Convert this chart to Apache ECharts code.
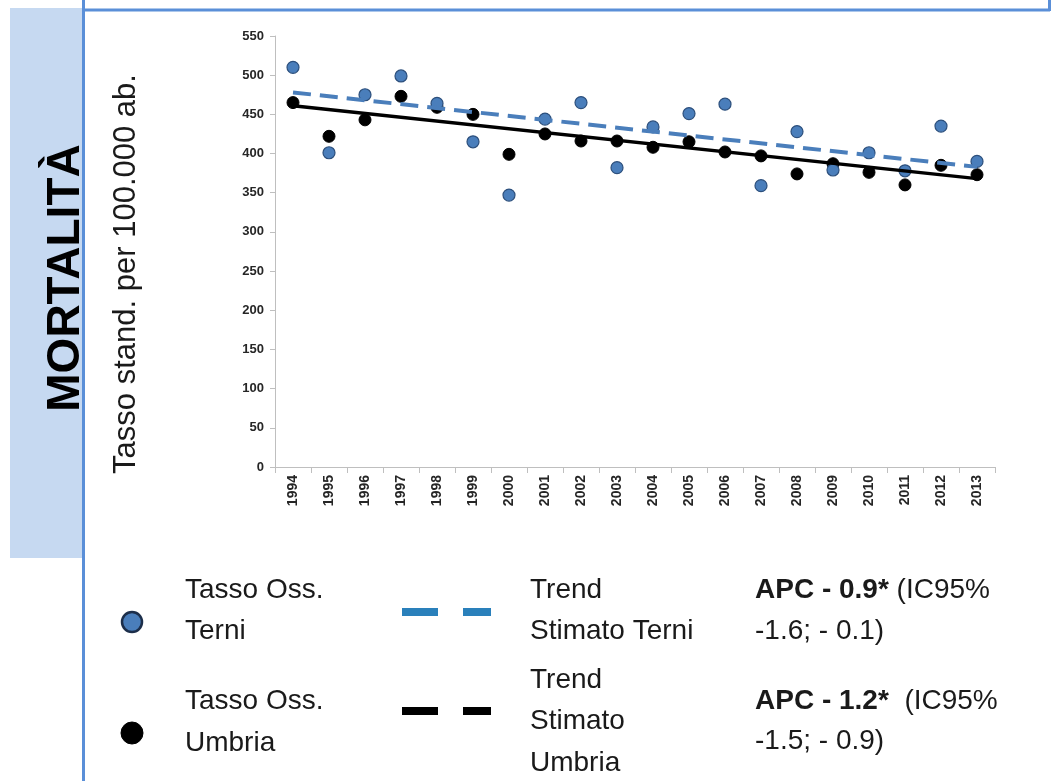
<!DOCTYPE html>
<html>
<head>
<meta charset="utf-8">
<script src="https://cdn.jsdelivr.net/npm/echarts@6/dist/echarts.min.js"></script>
<style>
html,body{margin:0;padding:0;background:#fff;}
#chart{width:1051px;height:781px;}
</style>
</head>
<body>
<div id="chart"></div>
<script>
// ---- data ----
var years = ['1994','1995','1996','1997','1998','1999','2000','2001','2002','2003','2004','2005','2006','2007','2008','2009','2010','2011','2012','2013'];
var terniObs = [510, 401, 475, 499, 464, 415, 347, 444, 465, 382, 434, 451, 463, 359, 428, 379, 401, 378, 435, 390];
var umbriaObs = [465, 422, 443, 473, 459, 450, 399, 425, 416, 416, 408, 415, 402, 397, 374, 387, 376, 360, 385, 373];
// estimated trend end values (1994, 2013)
var terniTrendEnds = [478, 383];
var umbriaTrendEnds = [461, 368];
var yTicks = {min: 0, max: 550, interval: 50};

function trendSeriesData(ends) {
  var d = years.map(function () { return null; });
  d[0] = ends[0];
  d[years.length - 1] = ends[1];
  return d;
}

var FONT = 'Liberation Sans';
var chart = echarts.init(document.getElementById('chart'), null, {renderer: 'canvas'});

function legendText(x, y, t) {
  return {type: 'text', x: x, y: y, z: 20,
    style: {text: t, fontFamily: FONT, fontSize: 28, fill: '#1a1a1a', verticalAlign: 'middle',
      rich: {b: {fontFamily: FONT, fontSize: 28, fontWeight: 'bold', fill: '#1a1a1a'}}}};
}

var option = {
  backgroundColor: '#ffffff',
  animation: false,
  grid: {left: 275, right: 56, top: 36, bottom: 314, containLabel: false},
  xAxis: {
    type: 'category',
    data: years,
    boundaryGap: true,
    axisLine: {lineStyle: {color: '#bfbfbf', width: 1}},
    axisTick: {show: true, length: 6, lineStyle: {color: '#bfbfbf'}},
    axisLabel: {rotate: 90, margin: 8, fontFamily: FONT, fontWeight: 'bold', fontSize: 14, color: '#262626'},
    splitLine: {show: false}
  },
  yAxis: {
    type: 'value',
    min: yTicks.min, max: yTicks.max, interval: yTicks.interval,
    axisLine: {show: true, lineStyle: {color: '#bfbfbf', width: 1}},
    axisTick: {show: true, length: 5, lineStyle: {color: '#bfbfbf'}},
    axisLabel: {margin: 11, fontFamily: FONT, fontWeight: 'bold', fontSize: 13, color: '#262626'},
    splitLine: {show: false}
  },
  series: [
    {
      name: 'Tasso Oss. Umbria', type: 'scatter', data: umbriaObs,
      symbol: 'circle', symbolSize: 12,
      itemStyle: {color: '#000000', borderColor: '#000000', borderWidth: 1, opacity: 1},
      z: 2
    },
    {
      name: 'Tasso Oss. Terni', type: 'scatter', data: terniObs,
      symbol: 'circle', symbolSize: 12,
      itemStyle: {color: '#4a7ebb', borderColor: '#2c4f7c', borderWidth: 1.2, opacity: 1},
      z: 3
    },
    {
      name: 'Trend Stimato Umbria', type: 'line', data: trendSeriesData(umbriaTrendEnds),
      connectNulls: true, showSymbol: false, symbol: 'none',
      lineStyle: {color: '#000000', width: 3.5, type: 'solid'},
      z: 4
    },
    {
      name: 'Trend Stimato Terni', type: 'line', data: trendSeriesData(terniTrendEnds),
      connectNulls: true, showSymbol: false, symbol: 'none',
      lineStyle: {color: '#4a7ebb', width: 4, type: [18, 9]},
      z: 5
    }
  ],
  graphic: [
    // left label panel
    {type: 'rect', left: 10, top: 8, shape: {width: 72, height: 550}, style: {fill: '#c6d9f1'}, z: 0},
    // frame lines
    {type: 'line', shape: {x1: 83.5, y1: 0, x2: 83.5, y2: 781}, style: {stroke: '#5a8fd8', lineWidth: 3}, z: 10},
    {type: 'line', shape: {x1: 84, y1: 10, x2: 1050, y2: 10}, style: {stroke: '#5a8fd8', lineWidth: 3}, z: 10},
    {type: 'line', shape: {x1: 1049.5, y1: 0, x2: 1049.5, y2: 11}, style: {stroke: '#5a8fd8', lineWidth: 3}, z: 10},
    // panel title
    {type: 'text', x: 66, y: 278, rotation: Math.PI / 2,
     style: {text: 'MORTALITÀ', fontFamily: FONT, fontWeight: 'bold', fontSize: 46, fill: '#000000',
             align: 'center', verticalAlign: 'middle'}, z: 20},
    // y axis title
    {type: 'text', x: 126, y: 274, rotation: Math.PI / 2,
     style: {text: 'Tasso stand. per 100.000 ab.', fontFamily: FONT, fontSize: 31, fill: '#1a1a1a',
             align: 'center', verticalAlign: 'middle'}, z: 20},
    // legend markers
    {type: 'circle', shape: {cx: 132, cy: 622, r: 10}, style: {fill: '#4a7ebb', stroke: '#1c2e4a', lineWidth: 2.5}, z: 20},
    {type: 'circle', shape: {cx: 132, cy: 733, r: 11}, style: {fill: '#000000', stroke: '#000000', lineWidth: 1}, z: 20},
    {type: 'rect', shape: {x: 402, y: 608, width: 36, height: 8}, style: {fill: '#2a80bb'}, z: 20},
    {type: 'rect', shape: {x: 463, y: 608, width: 28, height: 8}, style: {fill: '#2a80bb'}, z: 20},
    {type: 'rect', shape: {x: 402, y: 707, width: 36, height: 8}, style: {fill: '#000000'}, z: 20},
    {type: 'rect', shape: {x: 463, y: 707, width: 28, height: 8}, style: {fill: '#000000'}, z: 20},
    // legend texts
    legendText(185, 590, 'Tasso Oss.'),
    legendText(185, 631, 'Terni'),
    legendText(185, 701, 'Tasso Oss.'),
    legendText(185, 743, 'Umbria'),
    legendText(530, 590, 'Trend'),
    legendText(530, 631, 'Stimato Terni'),
    legendText(530, 680, 'Trend'),
    legendText(530, 721, 'Stimato'),
    legendText(530, 763, 'Umbria'),
    legendText(755, 590, '{b|APC - 0.9*} (IC95%'),
    legendText(755, 631, '-1.6; - 0.1)'),
    legendText(755, 701, '{b|APC - 1.2*}  (IC95%'),
    legendText(755, 741, '-1.5; - 0.9)')
  ]
};
chart.setOption(option);
</script>
</body>
</html>
